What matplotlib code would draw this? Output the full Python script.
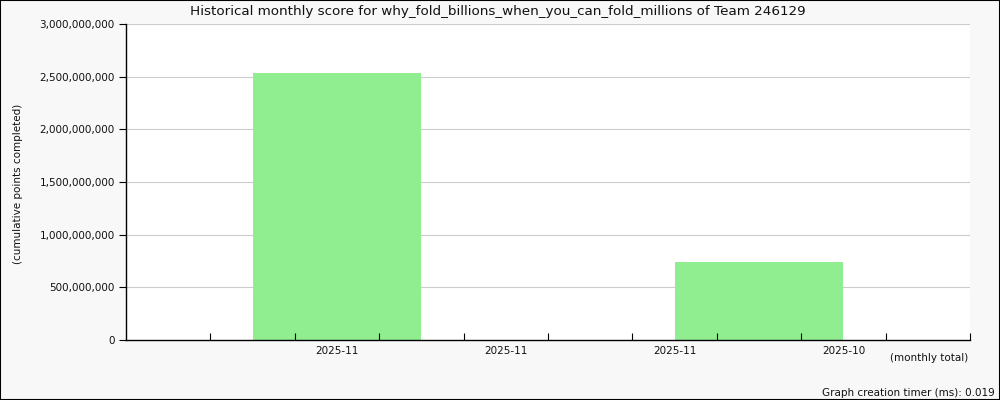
import numpy as np
import matplotlib.pyplot as plt
from matplotlib.patches import Rectangle
from matplotlib.ticker import FuncFormatter

months = ['2025-11', '2025-11', '2025-11', '2025-10']
scores = [2535000000, 0, 0, 740000000]
yticks = [0, 500000000, 1000000000, 1500000000, 2000000000, 2500000000, 3000000000]

plt.rcParams['font.family'] = 'DejaVu Sans'

fig = plt.figure(figsize=(10, 4), dpi=100, facecolor='#f8f8f8')
ax = fig.add_axes([0.126, 0.15, 0.844, 0.79])
ax.set_facecolor('white')

# gridlines behind bars, axis ticks in front
for y in yticks[1:]:
    ax.axhline(y, color='#cccccc', linewidth=0.8, zorder=0.5)

bar_x = np.linspace(2.5, 7.5, len(scores))
ax.bar(bar_x, scores, width=2, color='#90ee90', zorder=1)
ax.set_axisbelow(False)

ax.set_xlim(0, 10)
ax.set_ylim(0, 3000000000)
ax.set_yticks(yticks)
ax.yaxis.set_major_formatter(FuncFormatter(lambda v, p: f'{int(v):,}'))

# tick marks every unit, labels in between
ax.set_xticks(np.arange(1, 11))
ax.set_xticklabels([])
ax.set_xticks(2.5 + 2 * np.arange(len(months)), minor=True)
ax.set_xticklabels(months, minor=True)
ax.tick_params(axis='x', which='major', direction='in', length=5, width=0.8)
ax.tick_params(axis='x', which='minor', length=0, pad=4, labelsize=7.5, labelcolor='#111111')
ax.tick_params(axis='y', direction='out', length=5, width=0.8, labelsize=7.5, pad=3,
               labelcolor='#111111')

for s in ['top', 'right']:
    ax.spines[s].set_visible(False)
ax.spines['left'].set_linewidth(1)
ax.spines['bottom'].set_linewidth(1)

fig.text(0.498, 0.972, 'Historical monthly score for why_fold_billions_when_you_can_fold_millions of Team 246129',
         ha='center', va='center', fontsize=9.7, color='#111111')
fig.text(0.018, 0.54, '(cumulative points completed)', rotation=90, ha='center', va='center',
         fontsize=7.5, color='#111111')
fig.text(0.968, 0.105, '(monthly total)', ha='right', va='center', fontsize=7.5, color='#111111')
fig.text(0.995, 0.018, 'Graph creation timer (ms): 0.019', ha='right', va='center', fontsize=7.5,
         color='#111111')

fig.patches.append(Rectangle((0, 0), 1, 1, transform=fig.transFigure, fill=False,
                             edgecolor='black', linewidth=1.5))

fig.savefig('out.png', dpi=100, facecolor=fig.get_facecolor())
